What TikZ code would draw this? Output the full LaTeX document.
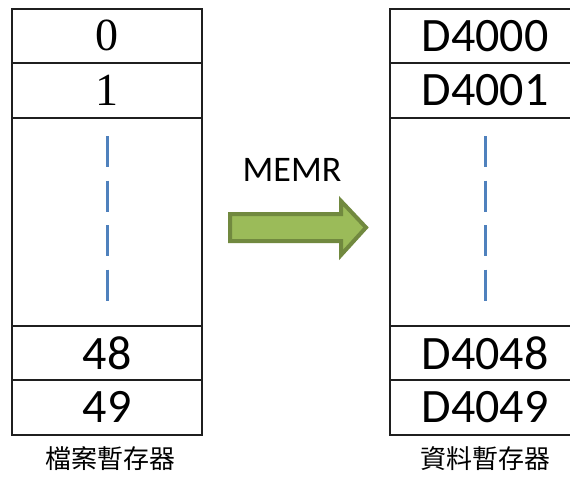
\documentclass[tikz,border=0pt]{standalone}
\usepackage{fontspec}
\usetikzlibrary{calc}
\newfontfamily\calfont{Carlito}
\newfontfamily\numseriffont{Liberation Serif}
\newfontfamily\cjkfont{Noto Sans CJK TC}
\definecolor{dashblue}{RGB}{79,129,189}
\definecolor{arrowfill}{RGB}{155,187,89}
\definecolor{arrowline}{RGB}{113,137,63}
\begin{document}
\begin{tikzpicture}[x=1pt,y=-1pt,
  cell/.style={draw=black!88, line width=1.6pt, minimum width=190pt, inner sep=0pt, anchor=north},
  serifnum/.style={font=\numseriffont\fontsize{46}{46}\selectfont},
  sansnum/.style={font=\calfont\fontsize{48}{48}\selectfont},
  dashline/.style={draw=dashblue, line width=3pt, dash pattern=on 31pt off 13.5pt},
  bigarrow/.style={fill=arrowfill, draw=arrowline, line width=4pt, line join=miter},
  caption/.style={font=\cjkfont\fontsize{26}{26}\selectfont, inner sep=0pt}]
\useasboundingbox (0,0) rectangle (570,477);
\fill[white] (0,0) rectangle (570,477);
% left register column
\node[cell, serifnum, minimum height=54pt] (L0) at (107,8) {0};
\node[cell, serifnum, minimum height=55pt] (L1) at (107,62) {1};
\node[cell, minimum height=208pt] (Ld) at (107,117) {};
\node[cell, sansnum, minimum height=54pt] (L48) at (107,325) {48};
\node[cell, sansnum, minimum height=55pt] (L49) at (107,379) {49};
% right register column
\node[cell, sansnum, minimum height=54pt] (R0) at (485,8) {D4000};
\node[cell, sansnum, minimum height=55pt] (R1) at (485,62) {D4001};
\node[cell, minimum height=208pt] (Rd) at (485,117) {};
\node[cell, sansnum, minimum height=54pt] (R48) at (485,325) {D4048};
\node[cell, sansnum, minimum height=55pt] (R49) at (485,379) {D4049};
% dashes
\draw[dashline] ($(Ld.north)+(0,19)$) -- ($(Ld.north)+(0,184)$);
\draw[dashline] ($(Rd.north)+(0,19)$) -- ($(Rd.north)+(0,184)$);
% arrow
\node[font=\calfont\fontsize{36}{36}\selectfont, inner sep=0pt] (memr) at (292,170) {MEMR};
\draw[bigarrow] (230,214) -- (341,214) -- (341,201) -- (366,227.5) -- (341,255) -- (341,241) -- (230,241) -- cycle;
% captions
\node[caption] (capL) at (110,459) {檔案暫存器};
\node[caption] (capR) at (485,459) {資料暫存器};
\end{tikzpicture}
\end{document}
